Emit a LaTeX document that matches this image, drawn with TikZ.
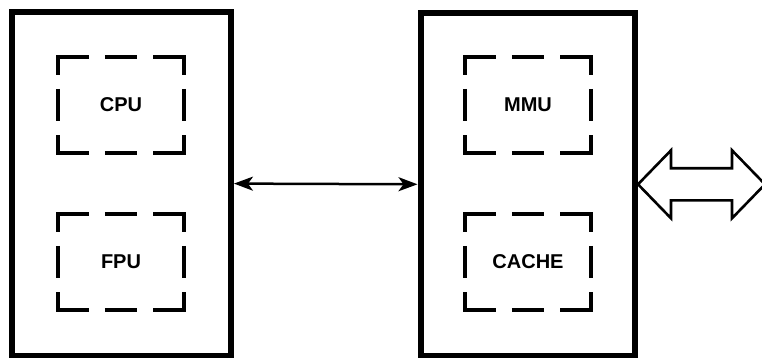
\documentclass[tikz,border=0pt]{standalone}
\usepackage{fontspec}
\setmainfont{Liberation Sans}
\usetikzlibrary{arrows.meta,calc}
\tikzset{
  chipbox/.style={draw, line width=6pt, inner sep=0pt},
  unitbox/.style={inner sep=0pt, minimum width=126pt, minimum height=96pt,
    font=\fontsize{20}{24}\selectfont\bfseries},
  dashline/.style={line width=4pt, line cap=butt, line join=miter},
  linktip/.tip={Stealth[length=19pt,width=14pt,inset=5pt]},
  thinlink/.style={line width=2.5pt, linktip-linktip},
  buslink/.style={draw, line width=2.6pt, line join=miter, fill=white}
}
\newcommand\dashframe[1]{%
  \draw[dashline] ($(#1.north west)+(0,18)$) -- (#1.north west) -- ++(31,0);
  \draw[dashline] ($(#1.north west)+(47,0)$) -- ++(32,0);
  \draw[dashline] ($(#1.north east)+(-31,0)$) -- (#1.north east) -- ++(0,18);
  \draw[dashline] ($(#1.north east)+(0,32)$) -- ++(0,32);
  \draw[dashline] ($(#1.south east)+(0,-18)$) -- (#1.south east) -- ++(-31,0);
  \draw[dashline] ($(#1.south west)+(47,0)$) -- ++(32,0);
  \draw[dashline] ($(#1.south west)+(31,0)$) -- (#1.south west) -- ++(0,-18);
  \draw[dashline] ($(#1.north west)+(0,32)$) -- ++(0,32);
}
\begin{document}
\begin{tikzpicture}[x=1pt,y=-1pt]
\useasboundingbox (0,0) rectangle (762,358);
\node[chipbox, minimum width=219.3pt, minimum height=343.8pt] (left) at (121.3,183.6) {};
\node[chipbox, minimum width=214.5pt, minimum height=343.3pt] (right) at (527.75,184.3) {};
\node[unitbox] (cpu) at (121,105) {CPU};
\node[unitbox] (fpu) at (121,262) {FPU};
\node[unitbox] (mmu) at (528,105) {MMU};
\node[unitbox] (cache) at (528,262) {CACHE};
\dashframe{cpu}
\dashframe{fpu}
\dashframe{mmu}
\dashframe{cache}
\draw[thinlink] (left.east) -- (right.west);
\coordinate (bus) at (right.east);
\draw[buslink] (bus) -- ++(33,-34) -- ++(0,18) -- ++(61,0) -- ++(0,-18)
  -- ++(33,34) -- ++(-33,34) -- ++(0,-18) -- ++(-61,0) -- ++(0,18) -- cycle;
\end{tikzpicture}
\end{document}
